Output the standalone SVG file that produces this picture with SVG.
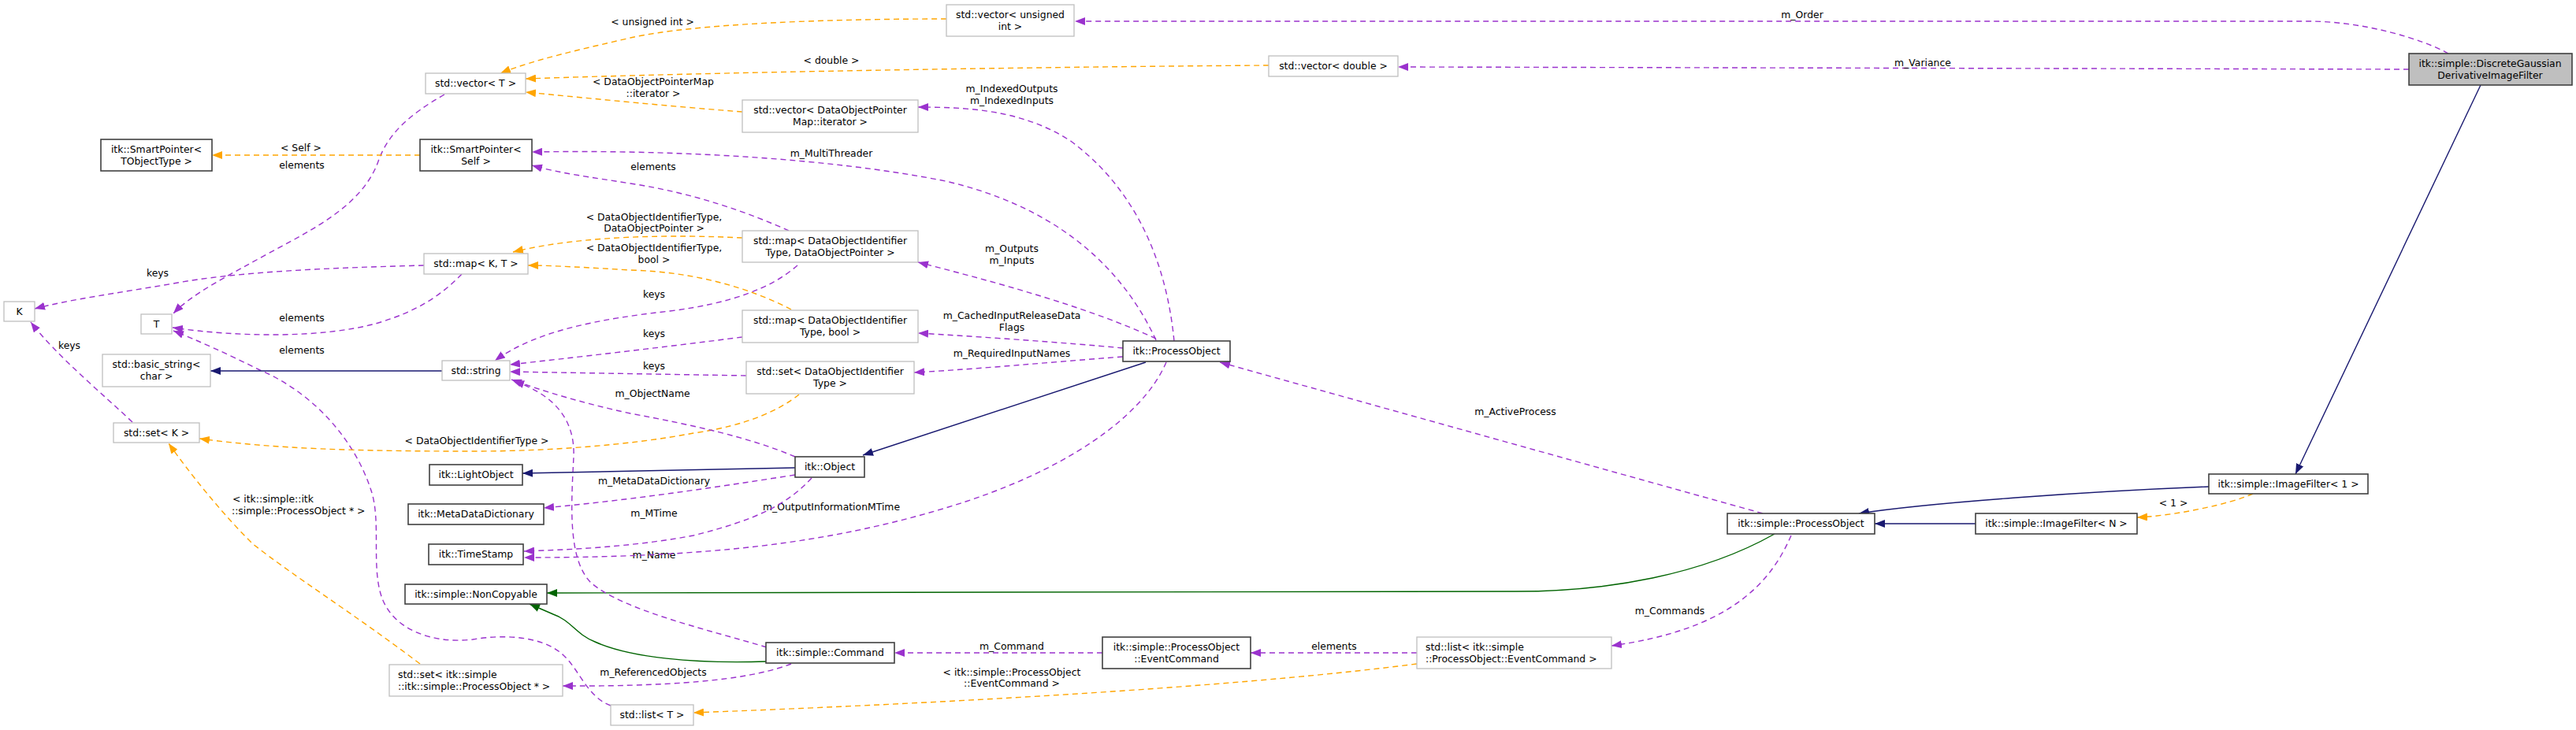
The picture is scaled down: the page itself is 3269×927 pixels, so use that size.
<svg xmlns="http://www.w3.org/2000/svg" width="3269" height="927" viewBox="0 0 3269 927">
<style>
text{font-family:"DejaVu Sans","Liberation Sans",sans-serif;font-size:12.4px;fill:#000}
.c{text-anchor:middle}
.g rect{fill:#fff;stroke:#bfbfbf;stroke-width:1.3}
.k rect{fill:#fff;stroke:#404040;stroke-width:1.6}
.p{fill:none;stroke:#9a32cd;stroke-width:1.4;stroke-dasharray:7,5;marker-end:url(#ap)}
.o{fill:none;stroke:#ffa500;stroke-width:1.4;stroke-dasharray:7,5;marker-end:url(#ao)}
.b{fill:none;stroke:#191970;stroke-width:1.4;marker-end:url(#ab)}
.e{fill:none;stroke:#006400;stroke-width:1.4;marker-end:url(#ae)}
</style>
<defs>
<marker id="ap" markerUnits="userSpaceOnUse" markerWidth="14" markerHeight="10" refX="13" refY="5" orient="auto"><path d="M0,0 L13,5 L0,10 z" fill="#9a32cd"/></marker>
<marker id="ao" markerUnits="userSpaceOnUse" markerWidth="14" markerHeight="10" refX="13" refY="5" orient="auto"><path d="M0,0 L13,5 L0,10 z" fill="#ffa500"/></marker>
<marker id="ab" markerUnits="userSpaceOnUse" markerWidth="14" markerHeight="10" refX="13" refY="5" orient="auto"><path d="M0,0 L13,5 L0,10 z" fill="#191970"/></marker>
<marker id="ae" markerUnits="userSpaceOnUse" markerWidth="14" markerHeight="10" refX="13" refY="5" orient="auto"><path d="M0,0 L13,5 L0,10 z" fill="#006400"/></marker>
</defs>
<rect width="3269" height="927" fill="#fff"/>
<g id="connectors">
<path class="p" d="M3107,68 C3075,50 3000,27 2930,27 L1364,27"/>
<text class="c" x="2287" y="23">m_Order</text>
<path class="p" d="M3057,88 L1774,85"/>
<text class="c" x="2440" y="84">m_Variance</text>
<path class="b" d="M3148,108 L2913,602"/>
<path class="o" d="M2859,627 C2830,640 2760,655 2712,657"/>
<text class="c" x="2758" y="643">&lt; 1 &gt;</text>
<path class="b" d="M2803,618 C2650,624 2450,638 2359,652"/>
<path class="b" d="M2507,665 L2379,665"/>
<path class="e" d="M2252,678 C2160,730 2040,751 1924,751 L694,753"/>
<path class="e" d="M972,840 C880,843 800,835 755,815 C730,805 725,788 702,780 L672,767"/>
<path class="p" d="M2237,652 L1548,460"/>
<text class="c" x="1923" y="527">m_ActiveProcess</text>
<path class="p" d="M2273,680 C2245,745 2190,800 2045,820"/>
<text class="c" x="2119" y="780">m_Commands</text>
<path class="p" d="M1798,829 L1587,829"/>
<text class="c" x="1693" y="825">elements</text>
<path class="o" d="M1798,843 C1550,875 1150,895 880,905"/>
<text class="c" x="1284" y="858">&lt; itk::simple::ProcessObject</text>
<text class="c" x="1284" y="872">::EventCommand &gt;</text>
<path class="p" d="M1399,829 L1135,829"/>
<text class="c" x="1284" y="825">m_Command</text>
<path class="p" d="M1004,843 C960,860 880,872 714,871"/>
<text class="c" x="829" y="858">m_ReferencedObjects</text>
<path class="p" d="M973,822 C900,800 790,775 750,740 C720,710 725,640 728,580 C730,530 700,500 652,484"/>
<text class="c" x="830" y="709">m_Name</text>
<path class="p" d="M775,896 C745,885 735,850 715,832 C690,808 640,805 600,812 C550,818 500,800 485,760 C470,720 485,660 470,620 C450,560 400,500 330,470 C290,450 250,432 220,420"/>
<text class="c" x="383" y="449">elements</text>
<path class="p" d="M564,120 C520,145 492,170 480,205 C460,260 400,290 340,322 C290,350 245,372 220,398"/>
<text class="c" x="383" y="214">elements</text>
<path class="o" d="M533,197 L269,197"/>
<text class="c" x="382" y="192">&lt; Self &gt;</text>
<path class="p" d="M538,337 C420,340 300,345 220,360 C150,372 90,380 44,392"/>
<text class="c" x="200" y="351">keys</text>
<path class="p" d="M586,348 C560,375 530,395 480,410 C410,430 300,428 219,416"/>
<text class="c" x="383" y="408">elements</text>
<path class="p" d="M168,536 C130,500 70,450 39,409"/>
<text class="c" x="88" y="443">keys</text>
<path class="o" d="M533,843 C450,780 370,730 320,690 C280,650 240,600 214,563"/>
<text x="295" y="638">&lt; itk::simple::itk</text>
<text x="294" y="653">::simple::ProcessObject * &gt;</text>
<path class="o" d="M1014,501 C990,520 950,540 880,550 C800,565 700,573 600,573 C450,573 350,570 253,557"/>
<text class="c" x="605" y="564">&lt; DataObjectIdentifierType &gt;</text>
<path class="p" d="M947,477 L647,472"/>
<text class="c" x="830" y="469">keys</text>
<path class="p" d="M942,428 C850,440 720,455 647,463"/>
<text class="c" x="830" y="428">keys</text>
<path class="p" d="M1012,337 C980,365 930,385 850,395 C760,405 680,420 628,458"/>
<text class="c" x="830" y="378">keys</text>
<path class="o" d="M942,302 C860,298 740,298 651,320"/>
<text class="c" x="830" y="280">&lt; DataObjectIdentifierType,</text>
<text class="c" x="830" y="294">DataObjectPointer &gt;</text>
<path class="o" d="M1004,393 C950,365 880,345 800,343 C750,340 700,337 670,337"/>
<text class="c" x="830" y="319">&lt; DataObjectIdentifierType,</text>
<text class="c" x="830" y="334">bool &gt;</text>
<path class="o" d="M942,142 C850,135 750,125 667,117"/>
<text class="c" x="829" y="108">&lt; DataObjectPointerMap</text>
<text class="c" x="829" y="123">::iterator &gt;</text>
<path class="o" d="M1610,83 C1300,85 900,92 667,100"/>
<text class="c" x="1055" y="81">&lt; double &gt;</text>
<path class="o" d="M1201,24 C1050,24 880,30 800,48 C740,62 680,75 635,93"/>
<text class="c" x="828" y="32">&lt; unsigned int &gt;</text>
<path class="p" d="M1490,433 C1480,330 1440,240 1360,180 C1300,140 1230,136 1165,136"/>
<text class="c" x="1284" y="117">m_IndexedOutputs</text>
<text class="c" x="1284" y="132">m_IndexedInputs</text>
<path class="p" d="M1467,432 C1420,330 1330,260 1200,230 C1050,200 850,190 675,193"/>
<text class="c" x="1055" y="199">m_MultiThreader</text>
<path class="p" d="M1001,293 C950,270 880,245 800,233 C750,225 710,220 675,210"/>
<text class="c" x="829" y="216">elements</text>
<path class="p" d="M1467,430 C1380,390 1270,360 1165,333"/>
<text class="c" x="1284" y="320">m_Outputs</text>
<text class="c" x="1284" y="335">m_Inputs</text>
<path class="p" d="M1425,442 C1350,435 1250,428 1165,423"/>
<text class="c" x="1284" y="405">m_CachedInputReleaseData</text>
<text class="c" x="1284" y="420">Flags</text>
<path class="p" d="M1425,453 C1330,460 1250,468 1160,473"/>
<text class="c" x="1284" y="453">m_RequiredInputNames</text>
<path class="b" d="M1454,460 L1095,578"/>
<path class="p" d="M1480,460 C1450,530 1350,600 1200,645 C1050,690 900,708 665,708"/>
<text class="c" x="1055" y="648">m_OutputInformationMTime</text>
<path class="p" d="M1009,580 C950,555 880,540 800,525 C740,512 690,497 649,482"/>
<text class="c" x="828" y="504">m_ObjectName</text>
<path class="b" d="M1009,594 L663,601"/>
<path class="p" d="M1009,603 C900,620 800,635 690,645"/>
<text class="c" x="830" y="615">m_MetaDataDictionary</text>
<path class="p" d="M1030,607 C1000,640 960,660 880,680 C800,695 720,698 665,700"/>
<text class="c" x="830" y="656">m_MTime</text>
<path class="b" d="M561,471 L267,471"/>
</g>
<g id="dgdif" class="k"><rect x="3057" y="68" width="207" height="40" style="fill:#bfbfbf"/><text class="c" x="3160" y="85">itk::simple::DiscreteGaussian</text><text class="c" x="3160" y="100">DerivativeImageFilter</text></g>
<g id="vec_uint" class="g"><rect x="1201" y="6" width="162" height="40"/><text class="c" x="1282" y="23">std::vector&lt; unsigned</text><text class="c" x="1282" y="38">int &gt;</text></g>
<g id="vec_double" class="g"><rect x="1610" y="71" width="164" height="26"/><text class="c" x="1692" y="88">std::vector&lt; double &gt;</text></g>
<g id="vec_T" class="g"><rect x="540" y="93" width="127" height="26"/><text class="c" x="603.5" y="110">std::vector&lt; T &gt;</text></g>
<g id="vec_dopmap" class="g"><rect x="942" y="127" width="223" height="41"/><text class="c" x="1053.5" y="144">std::vector&lt; DataObjectPointer</text><text class="c" x="1053.5" y="159">Map::iterator &gt;</text></g>
<g id="sp_tobj" class="k"><rect x="128" y="177" width="141" height="40"/><text class="c" x="198.5" y="194">itk::SmartPointer&lt;</text><text class="c" x="198.5" y="209">TObjectType &gt;</text></g>
<g id="sp_self" class="k"><rect x="533" y="177" width="142" height="40"/><text class="c" x="604" y="194">itk::SmartPointer&lt;</text><text class="c" x="604" y="209">Self &gt;</text></g>
<g id="map_dop" class="g"><rect x="942" y="293" width="223" height="40"/><text class="c" x="1053.5" y="310">std::map&lt; DataObjectIdentifier</text><text class="c" x="1053.5" y="325">Type, DataObjectPointer &gt;</text></g>
<g id="map_KT" class="g"><rect x="538" y="322" width="132" height="26"/><text class="c" x="604" y="339">std::map&lt; K, T &gt;</text></g>
<g id="map_bool" class="g"><rect x="942" y="394" width="223" height="41"/><text class="c" x="1053.5" y="411">std::map&lt; DataObjectIdentifier</text><text class="c" x="1053.5" y="426">Type, bool &gt;</text></g>
<g id="K" class="g"><rect x="5" y="383" width="39" height="25"/><text class="c" x="24.5" y="400">K</text></g>
<g id="T" class="g"><rect x="179" y="399" width="39" height="25"/><text class="c" x="198.5" y="416">T</text></g>
<g id="itk_po" class="k"><rect x="1425" y="433" width="136" height="26"/><text class="c" x="1493" y="450">itk::ProcessObject</text></g>
<g id="basic_string" class="g"><rect x="130" y="450" width="137" height="41"/><text class="c" x="198.5" y="467">std::basic_string&lt;</text><text class="c" x="198.5" y="482">char &gt;</text></g>
<g id="std_string" class="g"><rect x="561" y="458" width="86" height="25"/><text class="c" x="604" y="475">std::string</text></g>
<g id="set_doit" class="g"><rect x="947" y="459" width="213" height="41"/><text class="c" x="1053.5" y="476">std::set&lt; DataObjectIdentifier</text><text class="c" x="1053.5" y="491">Type &gt;</text></g>
<g id="set_K" class="g"><rect x="144" y="537" width="109" height="25"/><text class="c" x="198.5" y="554">std::set&lt; K &gt;</text></g>
<g id="itk_object" class="k"><rect x="1009" y="580" width="88" height="26"/><text class="c" x="1053" y="597">itk::Object</text></g>
<g id="lightobject" class="k"><rect x="545" y="590" width="118" height="26"/><text class="c" x="604" y="607">itk::LightObject</text></g>
<g id="mdd" class="k"><rect x="518" y="640" width="172" height="26"/><text class="c" x="604" y="657">itk::MetaDataDictionary</text></g>
<g id="timestamp" class="k"><rect x="544" y="691" width="120" height="26"/><text class="c" x="604" y="708">itk::TimeStamp</text></g>
<g id="noncopyable" class="k"><rect x="514" y="742" width="180" height="25"/><text class="c" x="604" y="759">itk::simple::NonCopyable</text></g>
<g id="simple_po" class="k"><rect x="2192" y="652" width="187" height="26"/><text class="c" x="2285.5" y="669">itk::simple::ProcessObject</text></g>
<g id="if1" class="k"><rect x="2803" y="602" width="202" height="25"/><text class="c" x="2904" y="619">itk::simple::ImageFilter&lt; 1 &gt;</text></g>
<g id="ifn" class="k"><rect x="2507" y="652" width="205" height="26"/><text class="c" x="2609.5" y="669">itk::simple::ImageFilter&lt; N &gt;</text></g>
<g id="command" class="k"><rect x="972" y="816" width="163" height="26"/><text class="c" x="1053.5" y="833">itk::simple::Command</text></g>
<g id="eventcommand" class="k"><rect x="1399" y="809" width="188" height="40"/><text class="c" x="1493" y="826">itk::simple::ProcessObject</text><text class="c" x="1493" y="841">::EventCommand</text></g>
<g id="list_ec" class="g"><rect x="1798" y="809" width="247" height="40"/><text x="1809" y="826">std::list&lt; itk::simple</text><text x="1809" y="841">::ProcessObject::EventCommand &gt;</text></g>
<g id="set_po" class="g"><rect x="494" y="844" width="220" height="40"/><text x="505" y="861">std::set&lt; itk::simple</text><text x="505" y="876">::itk::simple::ProcessObject * &gt;</text></g>
<g id="list_T" class="g"><rect x="775" y="895" width="105" height="26"/><text class="c" x="827.5" y="912">std::list&lt; T &gt;</text></g>
</svg>
